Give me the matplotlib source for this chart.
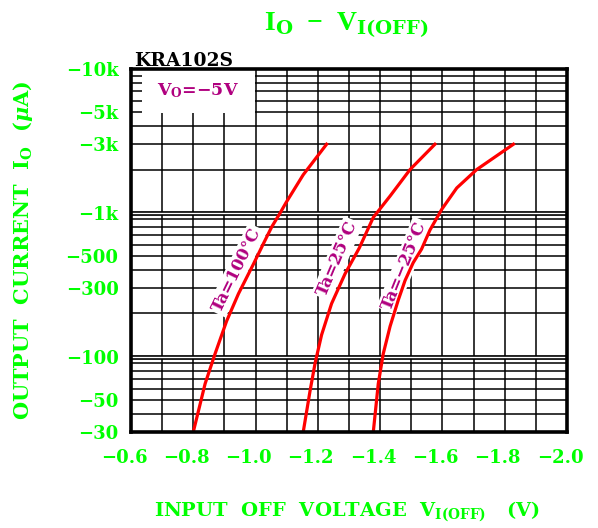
import numpy as np
import matplotlib
matplotlib.use("Agg")
import matplotlib.pyplot as plt
from matplotlib.patches import Rectangle
from matplotlib.transforms import ScaledTranslation

plt.rcParams["font.family"] = ["DejaVu Serif"]
plt.rcParams["font.weight"] = "bold"
plt.rcParams["mathtext.fontset"] = "custom"
plt.rcParams["mathtext.rm"] = "DejaVu Serif:bold"
plt.rcParams["mathtext.it"] = "DejaVu Serif:italic:bold"
plt.rcParams["mathtext.bf"] = "DejaVu Serif:bold"

# Curves (V in volts, |Io| in uA)
v_100 = [-0.800, -0.838, -0.870, -0.907, -0.945, -0.993, -1.025, -1.052, -1.079, -1.098, -1.153, -1.228]
i_100 = [30, 65, 105, 177, 274, 440, 610, 800, 1000, 1180, 1840, 3000]

v_25 = [-1.153, -1.175, -1.191, -1.212, -1.244, -1.287, -1.333, -1.378, -1.432, -1.496, -1.576]
i_25 = [30, 58, 90, 142, 234, 376, 570, 930, 1310, 2000, 3000]

v_m25 = [-1.378, -1.394, -1.410, -1.432, -1.458, -1.480, -1.506, -1.533, -1.560, -1.598, -1.646, -1.710, -1.828]
i_m25 = [30, 65, 105, 163, 247, 339, 450, 560, 760, 1060, 1490, 2000, 3000]

curve_labels = ["Ta=100°C", "Ta=25°C", "Ta=−25°C"]

x_ticks = [-0.6, -0.8, -1.0, -1.2, -1.4, -1.6, -1.8, -2.0]
y_ticks = [10000, 5000, 3000, 1000, 500, 300, 100, 50, 30]
y_ticklabels = ["−10k", "−5k", "−3k", "−1k", "−500", "−300", "−100", "−50", "−30"]

green = "#00ff00"
purple = "#b0007f"

fig = plt.figure(figsize=(5.98, 5.28), dpi=100)
ax = fig.add_axes([131 / 598, 1 - 432 / 528, 436 / 598, 363 / 528])

ax.set_yscale("log")
ax.set_xlim(-0.6, -2.0)
ax.set_ylim(30, 10000)

# grid: every 0.1 V, every log minor step, decades drawn double
for xv in np.arange(-0.7, -2.0, -0.1):
    ax.axvline(xv, color="black", lw=1.1, zorder=1)
for dec in [10, 100, 1000]:
    for m in range(2, 10):
        yv = dec * m
        if 30 < yv < 10000:
            ax.axhline(yv, color="black", lw=1.1, zorder=1)
for yv in [100, 1000]:
    ax.axhline(yv, color="black", lw=3.4, zorder=1)
    ax.axhline(yv, color="white", lw=1.0, zorder=1)

# Vo box in the corner
ax.add_patch(Rectangle((0.025, 0.88), 0.26, 0.12, transform=ax.transAxes,
                       facecolor="white", edgecolor="none", zorder=2))
ax.text(0.153, 0.94, r"V$_\mathrm{O}$=−5V", transform=ax.transAxes,
        color=purple, fontsize=12.5, ha="center", va="center", zorder=3)

ax.plot(v_100, i_100, color="red", lw=2.3, zorder=5)
ax.plot(v_25, i_25, color="red", lw=2.3, zorder=5)
ax.plot(v_m25, i_m25, color="red", lw=2.3, zorder=5)

label_pos = [(-0.940, 400, 64), (-1.262, 480, 67), (-1.478, 430, 68)]
for txt, (lx, ly, rot) in zip(curve_labels, label_pos):
    ax.text(lx, ly, txt, color=purple, fontsize=12, rotation=rot,
            ha="center", va="center", rotation_mode="anchor", zorder=4,
            bbox=dict(facecolor="white", edgecolor="none", pad=1.5))

ax.set_xticks(x_ticks)
ax.set_xticklabels([f"−{abs(v):.1f}" for v in x_ticks])
ax.set_yticks(y_ticks)
ax.set_yticklabels(y_ticklabels)
ax.yaxis.set_minor_locator(matplotlib.ticker.NullLocator())
ax.tick_params(axis="both", length=0, labelcolor=green, labelsize=13)
ax.tick_params(axis="x", pad=12)
ax.tick_params(axis="y", pad=9)
shift = ScaledTranslation(-7 / 100, 0, fig.dpi_scale_trans)
for lbl in ax.get_xticklabels():
    lbl.set_transform(lbl.get_transform() + shift)

for sp in ax.spines.values():
    sp.set_linewidth(2.6)
    sp.set_zorder(6)

fig.text(346 / 598, 1 - 25 / 528, r"I$_\mathrm{O}$  −  V$_\mathrm{I(OFF)}$",
         color=green, fontsize=20, ha="center", va="center",
         family="Liberation Serif", math_fontfamily="dejavuserif")
fig.text(134 / 598, 1 - 66 / 528, "KRA102S", color="black", fontsize=13.5,
         ha="left", va="baseline")
fig.text(23 / 598, 1 - 250 / 528, r"OUTPUT  CURRENT  I$_\mathrm{O}$  ($\mu$A)",
         color=green, fontsize=15, rotation=90, ha="center", va="center")
fig.text(347 / 598, 1 - 512 / 528, r"INPUT  OFF  VOLTAGE  V$_\mathrm{I(OFF)}$   (V)",
         color=green, fontsize=14, ha="center", va="center")

fig.savefig("out.png", dpi=100)
